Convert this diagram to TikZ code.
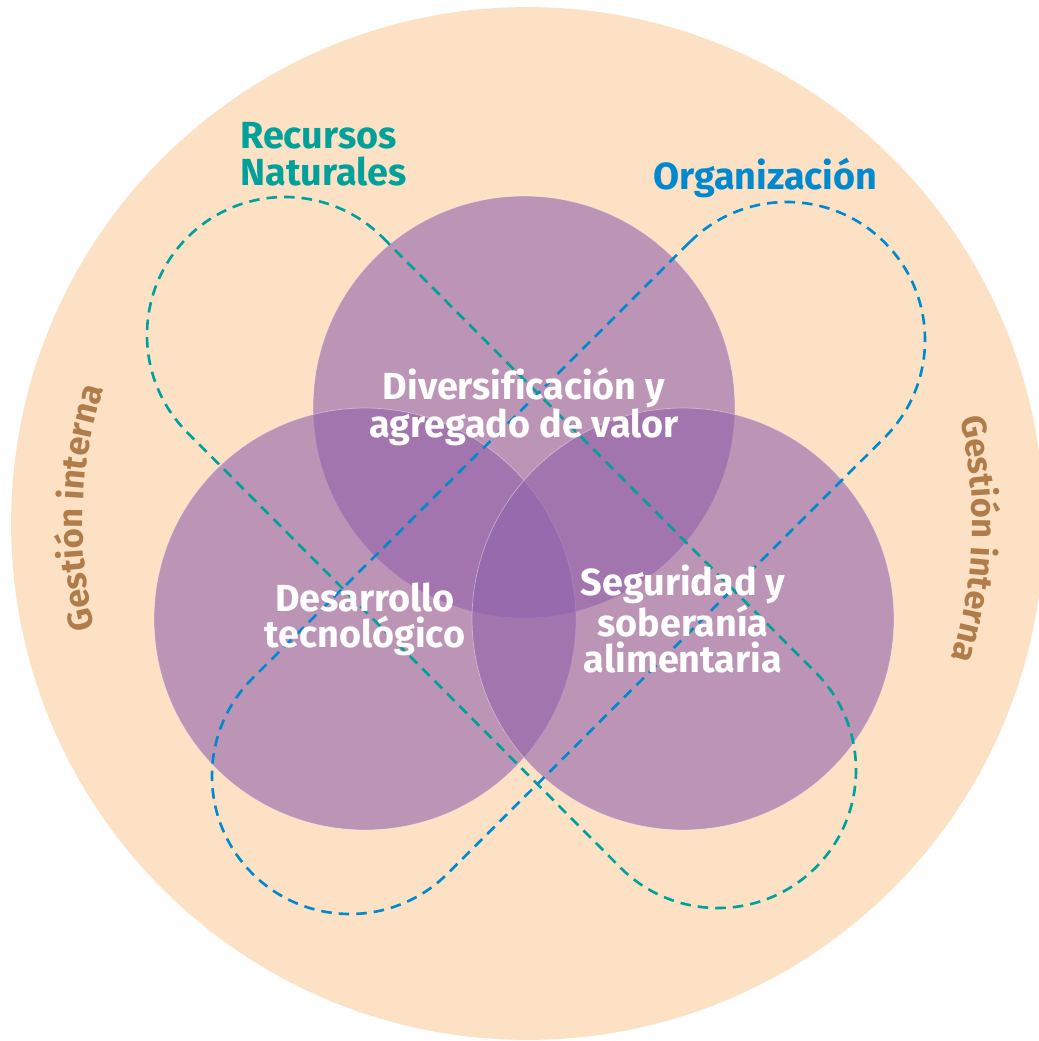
\documentclass[tikz,border=0pt]{standalone}
\usepackage{fontspec}
\setmainfont{Fira Sans}[Ligatures=NoCommon]
\usepackage{xcolor}
\usetikzlibrary{positioning,calc,decorations.text}

\definecolor{peach}{RGB}{253,225,196}
\definecolor{petalpurple}{RGB}{145,97,172}
\definecolor{natteal}{RGB}{0,161,154}
\definecolor{orgblue}{RGB}{0,137,207}
\definecolor{gestbrown}{RGB}{176,124,74}

\newcommand{\headfont}{\fontsize{21.5}{20.5}\selectfont\bfseries}
\newcommand{\gestfont}{\fontsize{19.6}{22}\selectfont\bfseries\color{gestbrown}}

\tikzset{
  petal/.style={circle, minimum size=8.44cm, inner sep=0, fill=petalpurple, fill opacity=0.6,
    draw=white, draw opacity=0.4, line width=0.4pt},
  petaltext/.style={align=center, inner sep=0, text=white, font=\headfont},
  looptext/.style={align=left, inner sep=0, font=\headfont},
  loopline/.style={dash pattern=on 6pt off 4pt, line width=1.5pt},
}

\begin{document}
\begin{tikzpicture}[x=0.02cm, y=0.02cm]
  \useasboundingbox (0,0) rectangle (1038,-1041);
  \node[circle, fill=peach, minimum size=20.66cm, inner sep=0] (outer) at (527.5,-523.5) {};

  \node[petal] (diversif) at (524,-407) {};
  \node[petal] (desarrollo) at (365,-619) {};
  \node[petal] (seguridad) at (683,-619) {};

  \coordinate (natA) at (285,-335);
  \coordinate (natB) at (718,-770);
  \draw[loopline, natteal] ($(natA)+(45:138)$) -- ($(natB)+(45:138)$)
    arc[start angle=45, end angle=-135, radius=138] -- ($(natA)+(225:138)$)
    arc[start angle=225, end angle=45, radius=138] -- cycle;

  \coordinate (orgA) at (787,-340);
  \coordinate (orgB) at (350,-776);
  \draw[loopline, orgblue] ($(orgA)+(135:138)$) -- ($(orgB)+(135:138)$)
    arc[start angle=135, end angle=315, radius=138] -- ($(orgA)+(-45:138)$)
    arc[start angle=-45, end angle=135, radius=138] -- cycle;

  \node[petaltext] (diversiflabel) at (diversif) {Diversificación y\\agregado de valor};
  \node[petaltext] (desarrollolabel) at (desarrollo) {Desarrollo\\tecnológico};
  \node[petaltext] (seguridadlabel) at (seguridad) {Seguridad y\\soberanía\\alimentaria};

  \node[looptext, text=natteal, anchor=base west] (recursos) at (240,-185) {Recursos\\Naturales};
  \node[looptext, text=orgblue, anchor=base west] (organiz) at (653,-189) {Organización};

  \path[decorate, decoration={text along path, text align=center, text={|\gestfont|Gestión interna}}]
    (outer.center) ++(208:445) arc[start angle=208, end angle=148, radius=445];
  \path[decorate, decoration={text along path, text align=center, text={|\gestfont|Gestión interna}}]
    (outer.center) ++(28:445) arc[start angle=28, end angle=-32, radius=445];
\end{tikzpicture}
\end{document}
